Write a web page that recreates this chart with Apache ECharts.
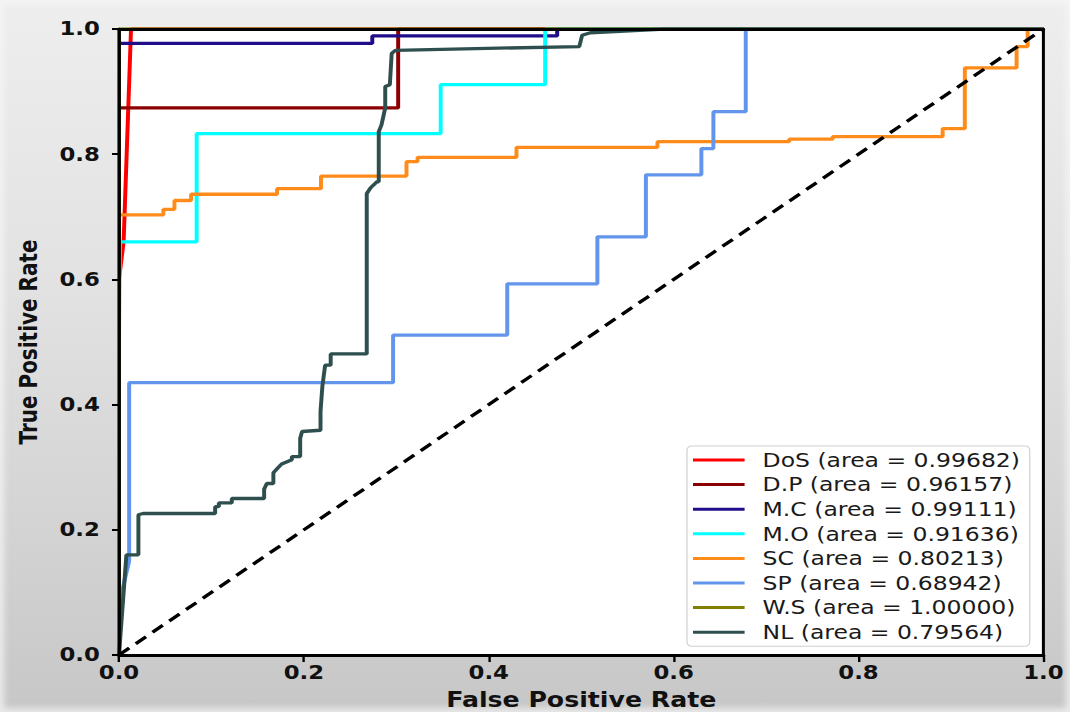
<!DOCTYPE html>
<html>
<head>
<meta charset="utf-8">
<title>ROC curves</title>
<script src="https://cdn.jsdelivr.net/npm/echarts@6/dist/echarts.min.js"></script>
<style>
  html, body { margin: 0; padding: 0; }
  body {
    width: 1070px; height: 712px; overflow: hidden;
    background: linear-gradient(to bottom, #eeeeee 0%, #e2e2e2 40%, #d3d3d3 75%, #c7c7c7 100%);
  }
  #frame {
    position: absolute; left: 0; top: 0; width: 1070px; height: 712px;
    box-shadow: inset 0 0 6px 4px rgba(246,246,246,0.75);
  }
  /* the figure is laid out on a narrower canvas and widened by 1.2 */
  #chart {
    position: absolute; left: 0; top: 0;
    width: 891.67px; height: 712px;
    transform: scaleX(1.2); transform-origin: 0 0;
  }
</style>
</head>
<body>
<div id="frame"></div>
<div id="chart"></div>
<script>
// Class names and their AUC values
const classNames = ['DoS', 'D.P', 'M.C', 'M.O', 'SC', 'SP', 'W.S', 'NL'];
const aucValues = ['0.99682', '0.96157', '0.99111', '0.91636', '0.80213', '0.68942', '1.00000', '0.79564'];
const lineColors = ['#ff0000', '#8b0000', '#1f0d8a', '#00ffff', '#ff8c1a', '#6495ed', '#808000', '#2f4f4f'];

// ROC points per class: [false positive rate, true positive rate]
const rocDoS = [[0, 0], [0, 0.6], [0.005, 0.66], [0.013, 1.0], [1, 1]];
const rocDP = [[0, 0], [0, 0.874], [0.302, 0.874], [0.302, 1.0], [1, 1]];
const rocMC = [[0, 0], [0, 0.977], [0.274, 0.977], [0.274, 0.989], [0.474, 0.989], [0.474, 1.0], [1, 1]];
const rocMO = [[0, 0], [0, 0.506], [0.001, 0.66], [0.084, 0.66], [0.084, 0.833], [0.348, 0.833],
  [0.348, 0.911], [0.461, 0.911], [0.461, 1.0], [1, 1]];
const rocSC = [[0, 0], [0, 0.703], [0.048, 0.703], [0.048, 0.712], [0.060, 0.712], [0.060, 0.726],
  [0.078, 0.726], [0.078, 0.736], [0.171, 0.736], [0.171, 0.745], [0.2185, 0.745], [0.2185, 0.765],
  [0.311, 0.765], [0.311, 0.788], [0.323, 0.788], [0.323, 0.795], [0.430, 0.795], [0.430, 0.811],
  [0.5825, 0.811], [0.5825, 0.820], [0.725, 0.820], [0.725, 0.824], [0.772, 0.824], [0.772, 0.828],
  [0.891, 0.828], [0.891, 0.841], [0.915, 0.841], [0.915, 0.938], [0.971, 0.938], [0.971, 0.972],
  [0.983, 0.972], [0.983, 1.0], [1, 1]];
const rocSP = [[0, 0], [0.003, 0.1], [0.011, 0.15], [0.011, 0.435], [0.2965, 0.435], [0.2965, 0.511],
  [0.420, 0.511], [0.420, 0.593], [0.5175, 0.593], [0.5175, 0.668], [0.570, 0.668], [0.570, 0.767],
  [0.630, 0.767], [0.630, 0.809], [0.643, 0.809], [0.643, 0.868], [0.678, 0.868], [0.678, 1.0], [1, 1]];
const rocWS = [[0, 0], [0, 1.0], [1, 1]];
const rocNL = [[0, 0], [0.004, 0.08], [0.008, 0.16], [0.021, 0.16], [0.021, 0.224], [0.026, 0.226],
  [0.104, 0.226], [0.104, 0.237], [0.108, 0.237], [0.108, 0.243], [0.122, 0.243], [0.122, 0.25],
  [0.157, 0.25], [0.157, 0.265], [0.160, 0.274], [0.167, 0.274], [0.167, 0.291], [0.172, 0.299],
  [0.176, 0.305], [0.187, 0.312], [0.187, 0.317], [0.196, 0.317], [0.196, 0.346], [0.198, 0.357],
  [0.218, 0.359], [0.218, 0.389], [0.220, 0.429], [0.223, 0.463], [0.229, 0.463], [0.229, 0.481],
  [0.268, 0.481], [0.268, 0.737], [0.272, 0.746], [0.279, 0.756], [0.281, 0.756], [0.281, 0.836],
  [0.284, 0.847], [0.288, 0.874], [0.288, 0.908], [0.293, 0.911], [0.295, 0.961], [0.299, 0.966],
  [0.498, 0.972], [0.501, 0.99], [0.51, 0.994], [0.59, 1.0], [1, 1]];
const rocCurves = [rocDoS, rocDP, rocMC, rocMO, rocSC, rocSP, rocWS, rocNL];

// Chance line
const chanceLine = [[0, 0], [1, 1]];

const xTitle = 'False Positive Rate';
const yTitle = 'True Positive Rate';

const SX = 1.2; // horizontal widening applied by CSS
const labelFont = 'DejaVu Sans';

const chart = echarts.init(document.getElementById('chart'), null, { renderer: 'svg' });

const seriesNames = classNames.map((n, i) => `${n} (area = ${aucValues[i]})`);

const series = rocCurves.map((pts, i) => ({
  name: seriesNames[i],
  type: 'line',
  data: pts,
  showSymbol: false,
  symbol: 'none',
  clip: true,
  z: 2,
  lineStyle: { color: lineColors[i], width: 3.3 },
  itemStyle: { color: lineColors[i] },
  emphasis: { disabled: true }
}));

series.push({
  name: 'chance',
  type: 'line',
  data: chanceLine,
  showSymbol: false,
  symbol: 'none',
  z: 3,
  lineStyle: { color: '#000', width: 3.2, type: [11, 7] },
  emphasis: { disabled: true }
});

const frameLine = (w) => ({ show: true, onZero: false, lineStyle: { color: '#000', width: w } });

const option = {
  animation: false,
  grid: {
    left: 119 / SX, right: (1070 - 1043) / SX, top: 29, bottom: 712 - 655,
    containLabel: false,
    outerBoundsMode: 'none'
  },
  legend: {
    orient: 'vertical',
    left: 687 / SX, top: 446,
    data: seriesNames,
    icon: 'rect',
    itemWidth: 43, itemHeight: 3,
    itemGap: 4.6,
    padding: [4, 8, 4, 5],
    backgroundColor: 'rgba(255,255,255,0.9)',
    borderColor: '#d0d0d0', borderWidth: 1, borderRadius: 4,
    selectedMode: false,
    textStyle: {
      fontFamily: labelFont, fontSize: 19.6, lineHeight: 20, color: '#1a1a1a',
      padding: [0, 0, 0, 10]
    }
  },
  xAxis: [{
    type: 'value', min: 0, max: 1, interval: 0.2, position: 'bottom', z: 5,
    name: xTitle, nameLocation: 'middle', nameGap: 34, nameMoveOverlap: false,
    nameTextStyle: { fontFamily: labelFont, fontWeight: 'bold', fontSize: 21, lineHeight: 20, color: '#111' },
    axisLine: frameLine(3),
    axisTick: { show: true, inside: false, length: 7, lineStyle: { color: '#000', width: 2 } },
    axisLabel: { margin: 10, fontFamily: labelFont, fontWeight: 'bold', fontSize: 19, lineHeight: 16, color: '#111',
      formatter: (v) => v.toFixed(1) },
    splitLine: { show: false }
  }, {
    type: 'value', min: 0, max: 1, position: 'top', z: 5,
    axisLine: frameLine(3), axisTick: { show: false }, axisLabel: { show: false }, splitLine: { show: false }
  }],
  yAxis: [{
    type: 'value', min: 0, max: 1, interval: 0.2, position: 'left', z: 5,
    name: yTitle, nameLocation: 'middle', nameGap: 66, nameMoveOverlap: false,
    nameTextStyle: { fontFamily: labelFont, fontWeight: 'bold', fontSize: 20, color: '#111' },
    axisLine: frameLine(3 / SX),
    axisTick: { show: true, inside: false, length: 7 / SX, lineStyle: { color: '#000', width: 2 } },
    axisLabel: { margin: 16, fontFamily: labelFont, fontWeight: 'bold', fontSize: 19, color: '#111',
      formatter: (v) => v.toFixed(1) },
    splitLine: { show: false }
  }, {
    type: 'value', min: 0, max: 1, position: 'right', z: 5,
    axisLine: frameLine(3 / SX), axisTick: { show: false }, axisLabel: { show: false }, splitLine: { show: false }
  }],
  series: series
};

chart.setOption(option);

// white plotting area behind the curves, placed from the axis scales
const tl = chart.convertToPixel({ gridIndex: 0 }, [0, 1]);
const br = chart.convertToPixel({ gridIndex: 0 }, [1, 0]);
chart.setOption({
  graphic: [{
    type: 'rect', z: -1, silent: true,
    shape: { x: tl[0], y: tl[1], width: br[0] - tl[0], height: br[1] - tl[1] },
    style: { fill: '#ffffff' }
  }]
});
</script>
</body>
</html>
